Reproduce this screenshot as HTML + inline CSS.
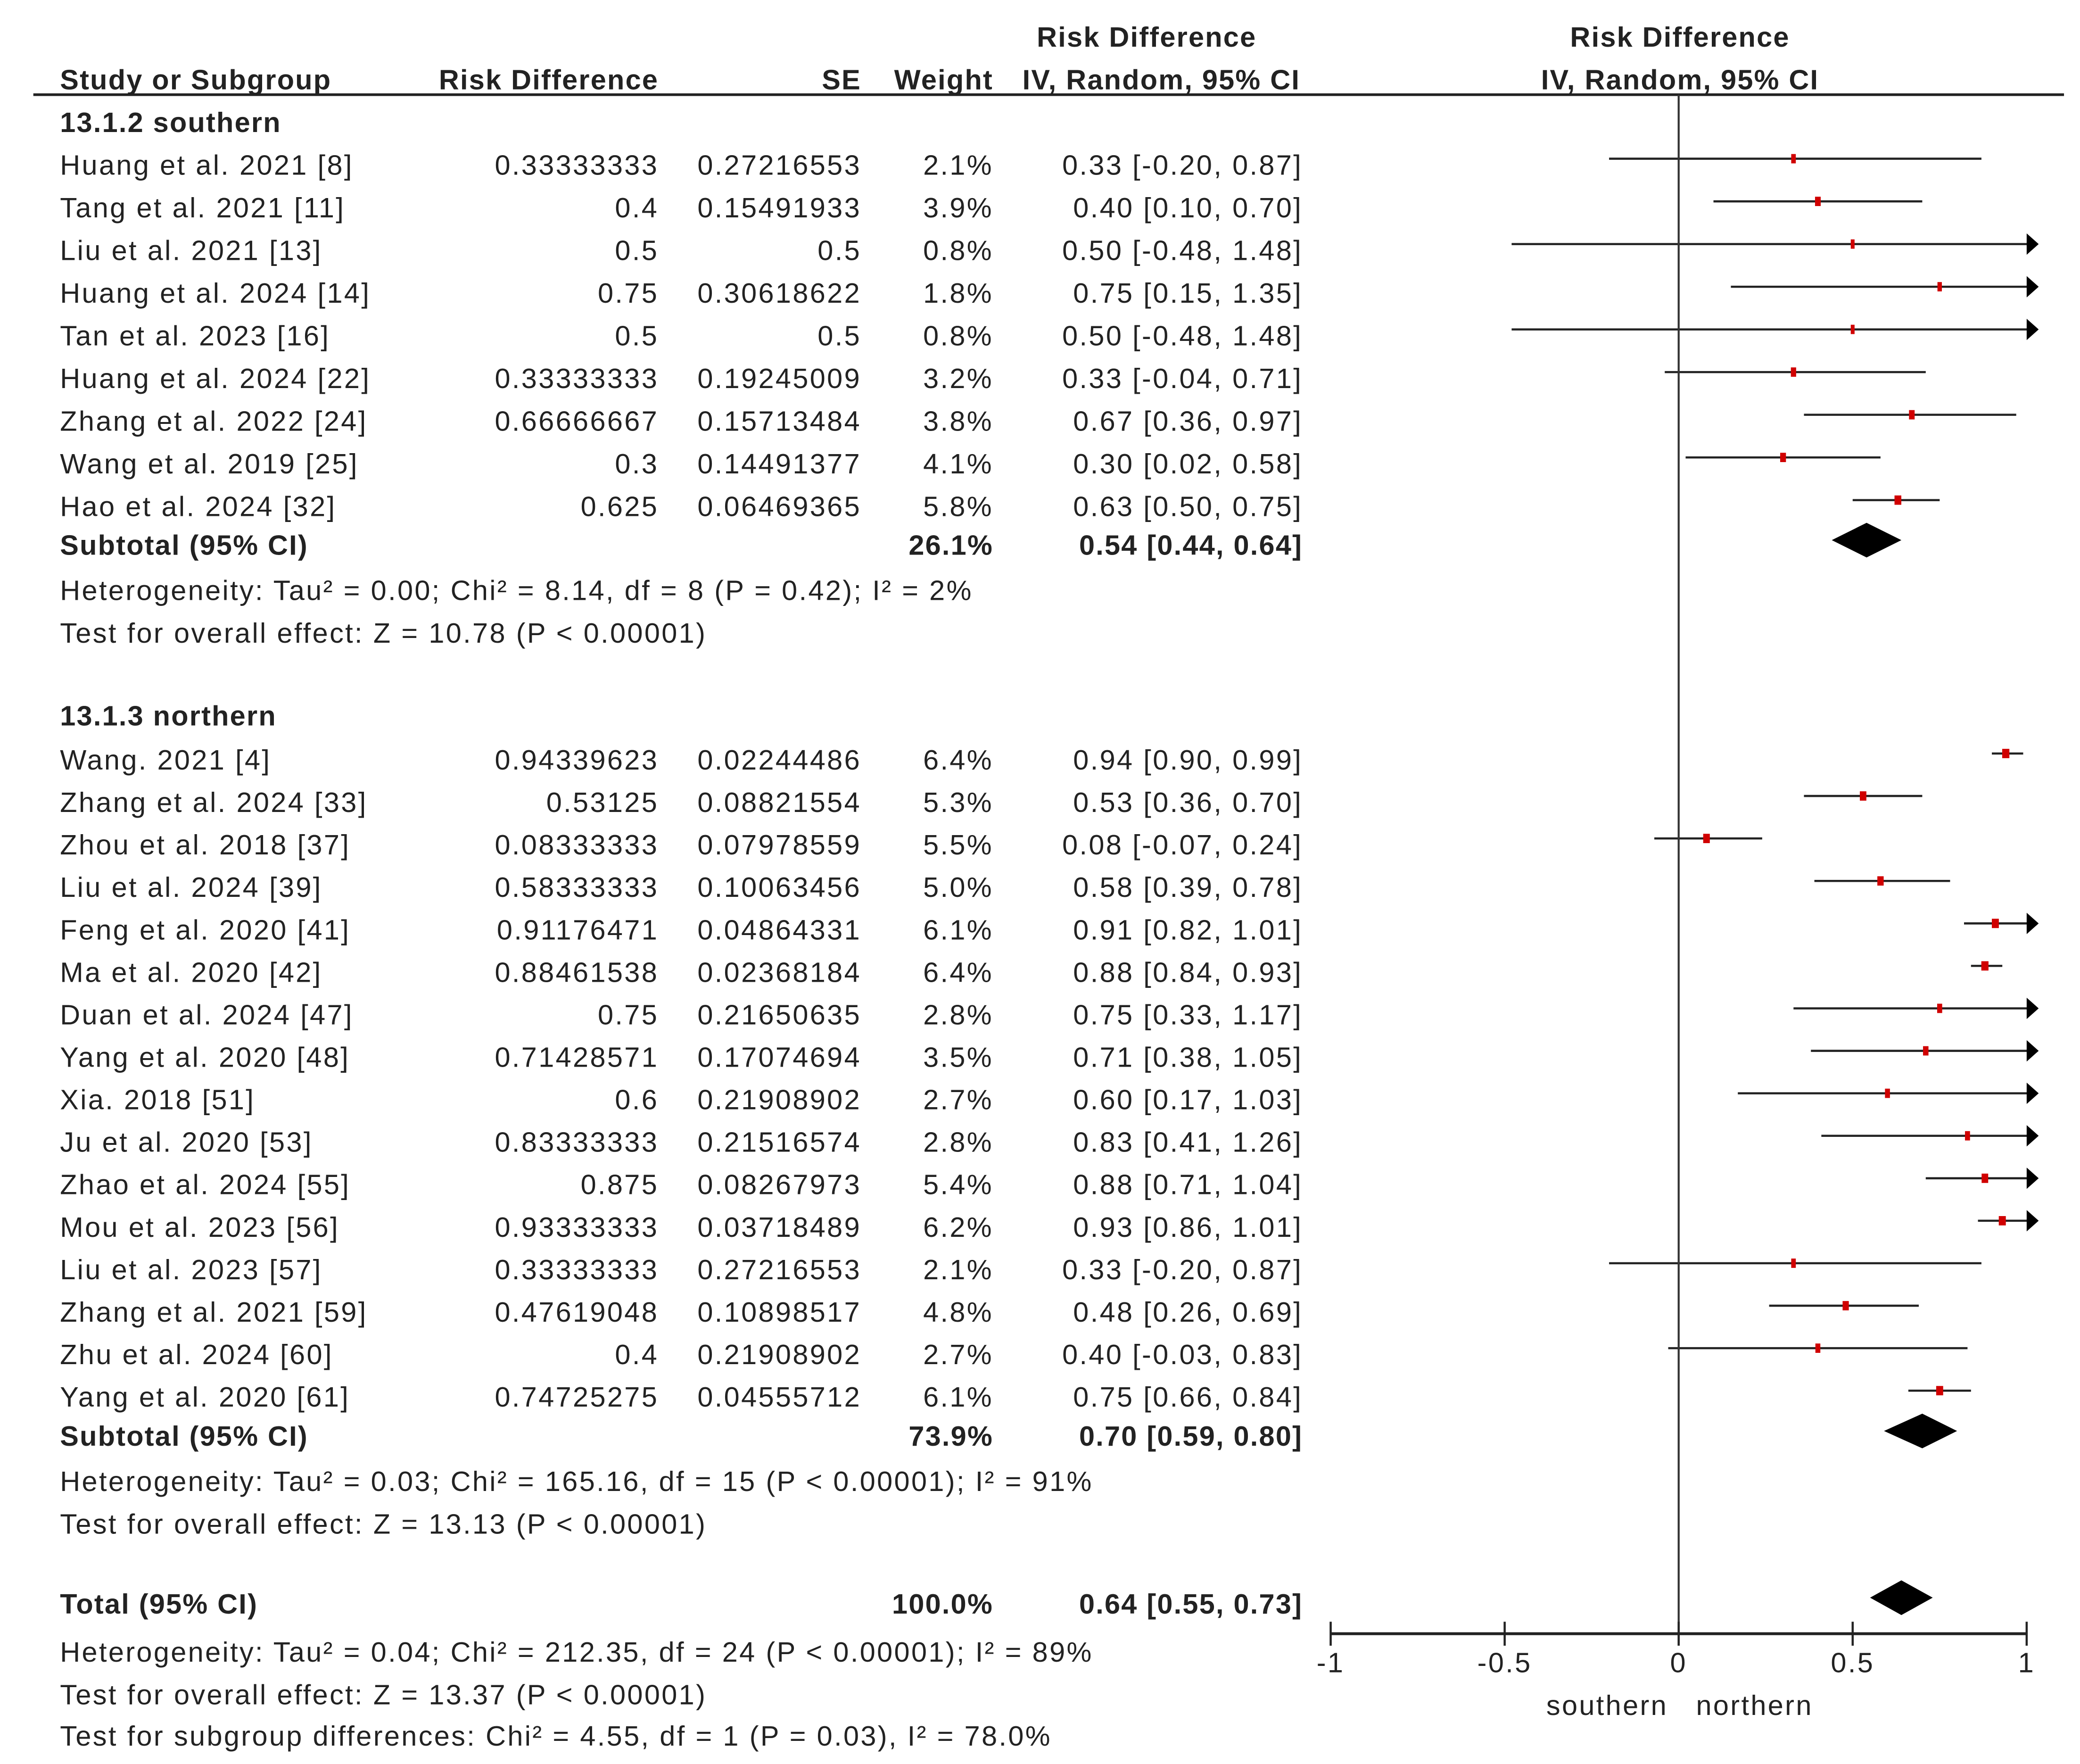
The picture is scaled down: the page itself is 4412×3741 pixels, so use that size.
<!DOCTYPE html>
<html><head><meta charset="utf-8"><style>
html,body{margin:0;padding:0;background:#fff;}
svg{display:block;}
text{font-family:"Liberation Sans",Arial,sans-serif;font-size:21px;fill:#222;letter-spacing:1.2px;}
.b{font-weight:bold;letter-spacing:0.8px;}
</style></head><body>
<svg id="plot" width="4412" height="3741" viewBox="0 0 1560 1322.7" preserveAspectRatio="none" xmlns="http://www.w3.org/2000/svg">
<g id="hdr">
<text class="b" x="860" y="35" text-anchor="middle">Risk Difference</text>
<text class="b" x="1260" y="35" text-anchor="middle">Risk Difference</text>
<text class="b" x="45" y="67">Study or Subgroup</text>
<text class="b" x="494" y="67" text-anchor="end">Risk Difference</text>
<text class="b" x="646" y="67" text-anchor="end">SE</text>
<text class="b" x="745" y="67" text-anchor="end">Weight</text>
<text class="b" x="871" y="67" text-anchor="middle">IV, Random, 95% CI</text>
<text class="b" x="1260" y="67" text-anchor="middle">IV, Random, 95% CI</text>
<line x1="25" y1="71" x2="1548" y2="71" stroke="#222" stroke-width="2"/>
</g>
<g id="body"></g>
</svg>
<script>
const studies1 = ["Huang et al. 2021 [8]","Tang et al. 2021 [11]","Liu et al. 2021 [13]","Huang et al. 2024 [14]","Tan et al. 2023 [16]","Huang et al. 2024 [22]","Zhang et al. 2022 [24]","Wang et al. 2019 [25]","Hao et al. 2024 [32]"];
const rd1 = ["0.33333333","0.4","0.5","0.75","0.5","0.33333333","0.66666667","0.3","0.625"];
const se1 = ["0.27216553","0.15491933","0.5","0.30618622","0.5","0.19245009","0.15713484","0.14491377","0.06469365"];
const w1 = [2.1,3.9,0.8,1.8,0.8,3.2,3.8,4.1,5.8];
const est1 = [0.33,0.40,0.50,0.75,0.50,0.33,0.67,0.30,0.63];
const lo1 = [-0.20,0.10,-0.48,0.15,-0.48,-0.04,0.36,0.02,0.50];
const hi1 = [0.87,0.70,1.48,1.35,1.48,0.71,0.97,0.58,0.75];
const studies2 = ["Wang. 2021 [4]","Zhang et al. 2024 [33]","Zhou et al. 2018 [37]","Liu et al. 2024 [39]","Feng et al. 2020 [41]","Ma et al. 2020 [42]","Duan et al. 2024 [47]","Yang et al. 2020 [48]","Xia. 2018 [51]","Ju et al. 2020 [53]","Zhao et al. 2024 [55]","Mou et al. 2023 [56]","Liu et al. 2023 [57]","Zhang et al. 2021 [59]","Zhu et al. 2024 [60]","Yang et al. 2020 [61]"];
const rd2 = ["0.94339623","0.53125","0.08333333","0.58333333","0.91176471","0.88461538","0.75","0.71428571","0.6","0.83333333","0.875","0.93333333","0.33333333","0.47619048","0.4","0.74725275"];
const se2 = ["0.02244486","0.08821554","0.07978559","0.10063456","0.04864331","0.02368184","0.21650635","0.17074694","0.21908902","0.21516574","0.08267973","0.03718489","0.27216553","0.10898517","0.21908902","0.04555712"];
const w2 = [6.4,5.3,5.5,5.0,6.1,6.4,2.8,3.5,2.7,2.8,5.4,6.2,2.1,4.8,2.7,6.1];
const est2 = [0.94,0.53,0.08,0.58,0.91,0.88,0.75,0.71,0.60,0.83,0.88,0.93,0.33,0.48,0.40,0.75];
const lo2 = [0.90,0.36,-0.07,0.39,0.82,0.84,0.33,0.38,0.17,0.41,0.71,0.86,-0.20,0.26,-0.03,0.66];
const hi2 = [0.99,0.70,0.24,0.78,1.01,0.93,1.17,1.05,1.03,1.26,1.04,1.01,0.87,0.69,0.83,0.84];
const subEst = [0.54,0.70,0.64];
const subLo = [0.44,0.59,0.55];
const subHi = [0.64,0.80,0.73];
const ticks = [-1,-0.5,0,0.5,1];
const tickLabels = ["-1","-0.5","0","0.5","1"];

const NS="http://www.w3.org/2000/svg";
const body=document.getElementById('body');
const X0=1259, XS=261;
function xs(v){return X0+v*XS;}
function mk(tag,attrs,txt){const e=document.createElementNS(NS,tag);for(const k in attrs)e.setAttribute(k,attrs[k]);if(txt!==undefined)e.textContent=txt;body.appendChild(e);return e;}
function txt(x,y,s,anchor,bold){const e=mk('text',{x:x,y:y,'text-anchor':anchor||'start','class':bold?'b':''},s);return e;}
function fmt(v){return v.toFixed(2);}
function ciStr(e,l,h){return fmt(e)+" ["+fmt(l)+", "+fmt(h)+"]";}

function drawStudy(y,name,rd,se,w,e,l,h){
  let t=txt(45,y+12,name);
  
  
  t=txt(494,y+12,rd,'end');
  
  
  t=txt(646,y+12,se,'end');
  
  
  t=txt(745,y+12,w.toFixed(1)+"%",'end');
  
  
  t=txt(977,y+12,ciStr(e,l,h),'end');
  
  
  const lim=1.0;
  const x1=xs(Math.max(l,-1)), x2=xs(Math.min(h,lim));
  const ln=mk('line',{x1:x1,y1:y,x2:h>lim?x2+2:x2,y2:y,stroke:'#222','stroke-width':1.6});
  
  
  if(h>lim){
    const a=mk('polygon',{points:(x2)+","+(y-8)+" "+(x2+9)+","+y+" "+(x2)+","+(y+8),fill:'#000'});
    
    
  }
  const sz=2.5+w*0.45;
  const p=mk('rect',{x:xs(e)-sz/2,y:y-3.5,width:sz,height:7,fill:'#d00000'});
  
  
}
function diamond(y,i){
  const d=mk('polygon',{points:xs(subLo[i])+","+y+" "+xs(subEst[i])+","+(y-13)+" "+xs(subHi[i])+","+y+" "+xs(subEst[i])+","+(y+13),fill:'#000'});
  
  
}

let t;
t=txt(45,99,"13.1.2 southern",'start',true);


studies1.forEach((s,i)=>drawStudy(119+i*32,s,rd1[i],se1[i],w1[i],est1[i],lo1[i],hi1[i]));
let y=405;
t=txt(45,y+11,"Subtotal (95% CI)",'start',true);


t=txt(745,y+11,"26.1%",'end',true);


t=txt(977,y+11,ciStr(subEst[0],subLo[0],subHi[0]),'end',true);


diamond(y,0);
t=txt(45,450,"Heterogeneity: Tau² = 0.00; Chi² = 8.14, df = 8 (P = 0.42); I² = 2%");


t=txt(45,482,"Test for overall effect: Z = 10.78 (P < 0.00001)");



t=txt(45,544,"13.1.3 northern",'start',true);


studies2.forEach((s,i)=>drawStudy(565+i*31.85,s,rd2[i],se2[i],w2[i],est2[i],lo2[i],hi2[i]));
y=1073;
t=txt(45,y+11,"Subtotal (95% CI)",'start',true);


t=txt(745,y+11,"73.9%",'end',true);


t=txt(977,y+11,ciStr(subEst[1],subLo[1],subHi[1]),'end',true);


diamond(y,1);
t=txt(45,1118,"Heterogeneity: Tau² = 0.03; Chi² = 165.16, df = 15 (P < 0.00001); I² = 91%");


t=txt(45,1150,"Test for overall effect: Z = 13.13 (P < 0.00001)");



y=1198;
t=txt(45,y+12,"Total (95% CI)",'start',true);


t=txt(745,y+12,"100.0%",'end',true);


t=txt(977,y+12,ciStr(subEst[2],subLo[2],subHi[2]),'end',true);


diamond(y,2);
t=txt(45,1246,"Heterogeneity: Tau² = 0.04; Chi² = 212.35, df = 24 (P < 0.00001); I² = 89%");


t=txt(45,1278,"Test for overall effect: Z = 13.37 (P < 0.00001)");


t=txt(45,1309,"Test for subgroup differences: Chi² = 4.55, df = 1 (P = 0.03), I² = 78.0%");



let l=mk('line',{x1:xs(0),y1:71,x2:xs(0),y2:1232,stroke:'#333','stroke-width':1.5});


const AY=1225;
l=mk('line',{x1:xs(-1),y1:AY,x2:xs(1),y2:AY,stroke:'#222','stroke-width':2.2});


ticks.forEach((v,i)=>{
  const tk=mk('line',{x1:xs(v),y1:AY-9,x2:xs(v),y2:AY+9,stroke:'#222','stroke-width':1.6});
  
  
  const tl=txt(xs(v),AY+29,tickLabels[i],'middle');
  
  
});
t=txt(1251,1286,"southern",'end');


t=txt(1272,1286,"northern",'start');


</script>
</body></html>
